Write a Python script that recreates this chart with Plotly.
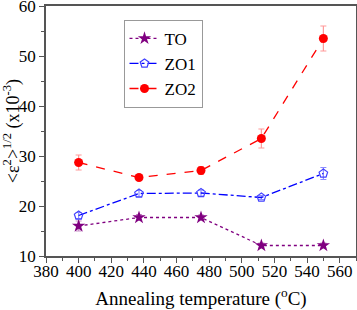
import plotly.graph_objects as go

temps = [400, 437, 475, 512, 550]
to_vals = [16.0, 17.7, 17.7, 12.1, 12.1]
to_err = [1.0, 0.6, 0.5, 0.5, 0.5]
zo1_vals = [18.1, 22.5, 22.6, 21.7, 26.5]
zo1_err = [0.6, 0.6, 0.6, 0.4, 1.2]
zo2_vals = [28.7, 25.7, 27.1, 33.5, 53.5]
zo2_err = [1.5, 0.6, 0.8, 1.9, 2.5]

font_family = "Liberation Serif, Times New Roman, serif"

fig = go.Figure()
fig.add_trace(go.Scatter(
    x=temps, y=to_vals, name="TO", mode="lines+markers",
    line=dict(color="#800080", dash="dot", width=1.3),
    marker=dict(symbol="star", size=10, color="#800080"),
    error_y=dict(type="data", array=to_err, color="rgba(128,0,128,0.45)", thickness=1.2, width=3),
))
fig.add_trace(go.Scatter(
    x=temps, y=zo1_vals, name="ZO1", mode="lines+markers",
    line=dict(color="#0000ff", dash="dashdot", width=1.3),
    marker=dict(symbol="pentagon-open", size=9, color="#4040ff", line=dict(width=1.2)),
    error_y=dict(type="data", array=zo1_err, color="rgba(0,0,255,0.45)", thickness=1.2, width=3),
))
fig.add_trace(go.Scatter(
    x=temps, y=zo2_vals, name="ZO2", mode="lines+markers",
    line=dict(color="#ff0000", dash="dash", width=1.3),
    marker=dict(symbol="circle", size=9, color="#ff0000"),
    error_y=dict(type="data", array=zo2_err, color="rgba(255,0,0,0.4)", thickness=1.2, width=3),
))

axis_common = dict(
    showline=True, linecolor="#555555", linewidth=1.5, mirror=True,
    ticks="outside", ticklen=5, tickwidth=1.2, tickcolor="#555555",
    showgrid=False, zeroline=False, automargin=False, ticklabeloverflow="allow",
    tickfont=dict(family=font_family, size=17, color="black"),
)

fig.update_layout(
    width=357, height=310,
    margin=dict(l=46, r=1, t=6, b=54),
    paper_bgcolor="white", plot_bgcolor="white",
    font=dict(family=font_family, color="black"),
    xaxis=dict(
        range=[380, 570], tickvals=[380, 400, 420, 440, 460, 480, 500, 520, 540, 560],
        minor=dict(ticks="outside", ticklen=3, tickcolor="#555555", dtick=10, tick0=380),
        ticklabelstandoff=-6,
        title=dict(text="Annealing temperature (<sup>o</sup>C)", font=dict(family=font_family, size=19), standoff=22),
        **axis_common,
    ),
    yaxis=dict(
        range=[10, 60], tickvals=[10, 20, 30, 40, 50, 60],
        minor=dict(ticks="outside", ticklen=3, tickcolor="#555555", dtick=5, tick0=10),
        title=dict(text="&lt;ε<sup>2</sup>&gt;<sup>1/2</sup> (x10<sup>-3</sup>)", font=dict(family=font_family, size=18), standoff=4),
        **axis_common,
    ),
    legend=dict(
        x=0.25, y=0.945, xanchor="left", yanchor="top",
        bordercolor="#999999", borderwidth=1, bgcolor="white",
        font=dict(family=font_family, size=17, color="black"),
        itemwidth=30, tracegroupgap=0,
    ),
    showlegend=True,
)

fig.write_html("out.html", config={"displayModeBar": False},
               post_script="document.body.style.margin='0';document.body.style.overflow='hidden';")
